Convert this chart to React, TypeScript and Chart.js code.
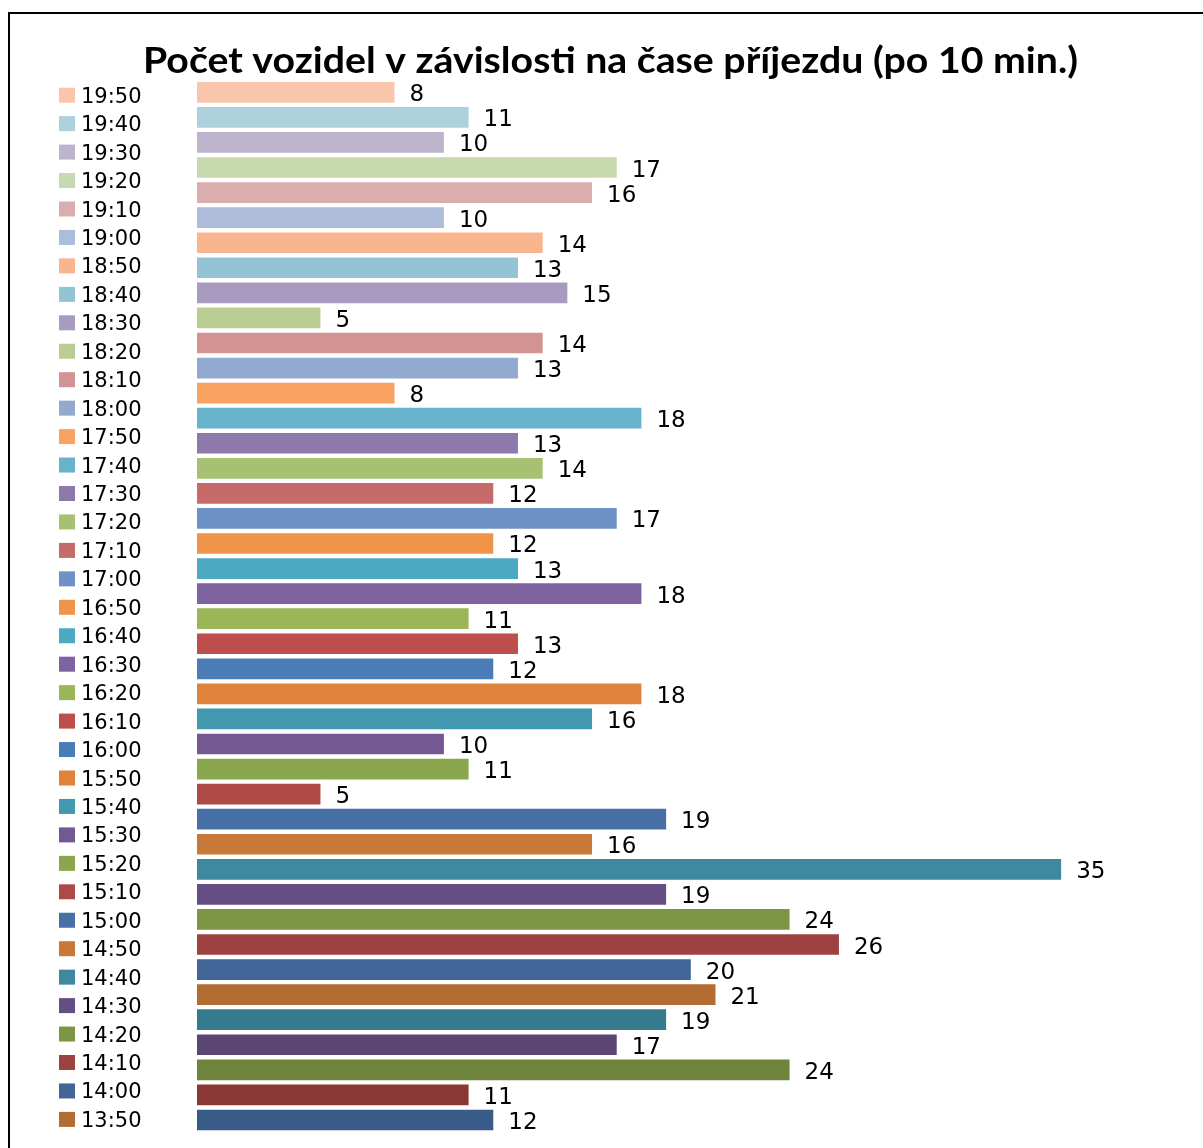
import React, { useEffect, useRef } from "react";
import { Chart, registerables } from "chart.js";

Chart.register(...registerables);

const TITLE = "Počet vozidel v závislosti na čase příjezdu (po 10 min.)";

const TIMES = [
  "13:00", "13:10", "13:20", "13:30", "13:40", "13:50",
  "14:00", "14:10", "14:20", "14:30", "14:40", "14:50",
  "15:00", "15:10", "15:20", "15:30", "15:40", "15:50",
  "16:00", "16:10", "16:20", "16:30", "16:40", "16:50",
  "17:00", "17:10", "17:20", "17:30", "17:40", "17:50",
  "18:00", "18:10", "18:20", "18:30", "18:40", "18:50",
  "19:00", "19:10", "19:20", "19:30", "19:40", "19:50",
];

const VEHICLES = [
  12, 11, 24, 17, 19, 21,
  20, 26, 24, 19, 35, 16,
  19, 5, 11, 10, 16, 18,
  12, 13, 11, 18, 13, 12,
  17, 12, 14, 13, 18, 8,
  13, 14, 5, 15, 13, 14,
  10, 16, 17, 10, 11, 8,
];

const COLORS = [
  "#385B87", "#8A3735", "#6E843D", "#5A4573", "#357B8D", "#B36C31",
  "#406596", "#9D4240", "#7D9646", "#664E84", "#3D8AA0", "#C87937",
  "#4670A6", "#AD4946", "#8AA64F", "#735891", "#4298AE", "#DE823C",
  "#4A7DB8", "#BC4F4C", "#9AB658", "#7F62A0", "#4BA9C1", "#F0944A",
  "#6D92C6", "#C76A6A", "#A7C172", "#8E79AD", "#67B3CC", "#F9A363",
  "#93A9D0", "#D39393", "#BACE93", "#A99AC0", "#93C3D4", "#F9B58E",
  "#ADBCD8", "#DBAEAE", "#C9D9AF", "#BEB3CD", "#ACD0DC", "#F9C5AB",
];

// Legend shows entries from 19:50 down to 13:50 (the rest is cut off)
const LEGEND_TIMES = TIMES.slice(TIMES.indexOf("13:50")).reverse();

const X_MAX = 40;

const overlayPlugin = {
  id: "overlay",
  afterDatasetsDraw(chart: any) {
    const ctx: CanvasRenderingContext2D = chart.ctx;
    const meta = chart.getDatasetMeta(0);
    ctx.save();
    ctx.fillStyle = "#000";
    ctx.textAlign = "left";
    ctx.textBaseline = "alphabetic";

    // value labels
    ctx.font = "23px 'DejaVu Sans'";
    meta.data.forEach((bar: any, i: number) => {
      ctx.fillText(String(VEHICLES[i]), bar.x + 15, bar.y + 9);
    });

    // title
    ctx.font = "bold 36px Lato";
    const w = ctx.measureText(TITLE).width;
    const target = 935;
    ctx.save();
    ctx.translate(610.5, 73);
    ctx.scale(target / w, 1);
    ctx.textAlign = "center";
    ctx.fillText(TITLE, 0, 0);
    ctx.restore();

    // legend
    ctx.font = "21px 'DejaVu Sans'";
    LEGEND_TIMES.forEach((t, k) => {
      const idx = TIMES.indexOf(t);
      const cy = 95.2 + k * 28.45;
      ctx.fillStyle = COLORS[idx];
      ctx.fillRect(59, cy - 7.5, 16, 15);
      ctx.fillStyle = "#000";
      ctx.fillText(t, 81, cy + 7.5);
    });
    ctx.restore();
  },
};

export default function App() {
  const canvasRef = useRef<HTMLCanvasElement | null>(null);

  useEffect(() => {
    const canvas = canvasRef.current;
    if (!canvas) return;
    const chart = new Chart(canvas, {
      type: "bar",
      data: {
        labels: TIMES,
        datasets: [
          {
            data: VEHICLES,
            backgroundColor: COLORS,
            borderWidth: 0,
            barPercentage: 0.825,
            categoryPercentage: 1,
          },
        ],
      },
      options: {
        indexAxis: "y",
        responsive: false,
        animation: false,
        devicePixelRatio: 1,
        layout: {
          padding: { left: 197, right: 18.4, top: 79.8, bottom: 15.5 },
        },
        scales: {
          x: { display: false, min: 0, max: X_MAX },
          y: { display: false, reverse: true },
        },
        plugins: {
          legend: { display: false },
          title: { display: false },
          tooltip: { enabled: false },
        },
      },
      plugins: [overlayPlugin],
    });
    return () => chart.destroy();
  }, []);

  return (
    <div
      style={{
        position: "fixed",
        left: 0,
        top: 0,
        width: 1203,
        height: 1148,
        overflow: "hidden",
        background: "#fff",
      }}
    >
      <canvas
        ref={canvasRef}
        width={1203}
        height={1148}
        style={{ position: "absolute", left: 0, top: 0, width: 1203, height: 1148 }}
      />
      <div
        style={{
          position: "absolute",
          left: 8,
          top: 12,
          width: 1400,
          height: 1400,
          border: "2px solid #000",
          boxSizing: "border-box",
          pointerEvents: "none",
        }}
      />
    </div>
  );
}
